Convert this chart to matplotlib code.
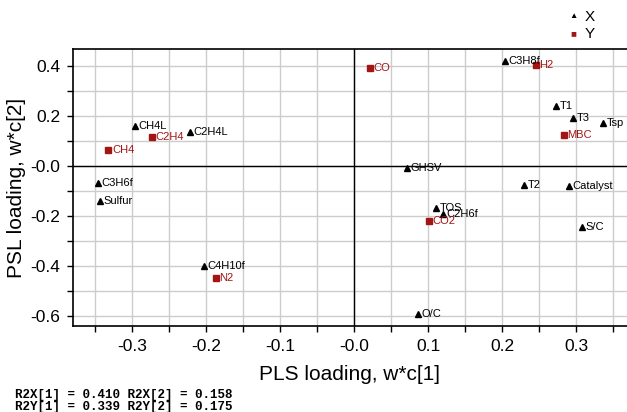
import matplotlib.pyplot as plt
from matplotlib.ticker import MultipleLocator, FuncFormatter

plt.rcParams['font.family'] = ['Liberation Sans', 'DejaVu Sans']

# X variables (triangles)
x_names = ['CH4L', 'C2H4L', 'C3H6f', 'Sulfur', 'C4H10f', 'C3H8f', 'T1', 'T3', 'Tsp',
           'GHSV', 'T2', 'Catalyst', 'TOS', 'C2H6f', 'S/C', 'O/C']
x_w1 = [-0.296, -0.222, -0.346, -0.343, -0.203, 0.204, 0.273, 0.296, 0.337,
        0.071, 0.230, 0.290, 0.111, 0.120, 0.308, 0.086]
x_w2 = [0.159, 0.135, -0.070, -0.140, -0.401, 0.419, 0.240, 0.190, 0.172,
        -0.008, -0.075, -0.080, -0.168, -0.193, -0.244, -0.593]

# Y variables (squares)
y_names = ['CH4', 'C2H4', 'N2', 'CO', 'H2', 'MBC', 'CO2']
y_w1 = [-0.332, -0.273, -0.187, 0.022, 0.246, 0.284, 0.101]
y_w2 = [0.063, 0.116, -0.447, 0.391, 0.403, 0.123, -0.221]

red = '#a31515'

fig = plt.figure(figsize=(6.27, 4.12), dpi=100)
ax = fig.add_axes([0.1164, 0.2087, 0.8836, 0.6723])

ax.plot(x_w1, x_w2, '^', color='black', ms=4, zorder=3)
ax.plot(y_w1, y_w2, 's', color=red, ms=4, zorder=3)
for n, a, b in zip(x_names, x_w1, x_w2):
    ax.annotate(n, (a, b), xytext=(2.5, 0), textcoords='offset points',
                va='center', ha='left', fontsize=8, color='black', zorder=4)
for n, a, b in zip(y_names, y_w1, y_w2):
    ax.annotate(n, (a, b), xytext=(2.5, 0), textcoords='offset points',
                va='center', ha='left', fontsize=8, color=red, zorder=4)

ax.axhline(0, color='black', lw=1, zorder=2)
ax.axvline(0, color='black', lw=1, zorder=2)

ax.set_xlim(-0.380, 0.369)
ax.set_ylim(-0.641, 0.467)
ax.xaxis.set_major_locator(MultipleLocator(0.1))
ax.xaxis.set_minor_locator(MultipleLocator(0.05))
ax.yaxis.set_major_locator(MultipleLocator(0.2))
ax.yaxis.set_minor_locator(MultipleLocator(0.1))

def fmt(v, pos):
    if abs(v) < 1e-9:
        return '-0.0'
    return '%.1f' % v

ax.xaxis.set_major_formatter(FuncFormatter(fmt))
ax.yaxis.set_major_formatter(FuncFormatter(fmt))
ax.tick_params(which='both', direction='out', length=4, width=1, labelsize=12.5, pad=5)
ax.grid(which='both', color='#cccccc', lw=1)
ax.set_axisbelow(True)
ax.spines['right'].set_visible(False)
for s in ['left', 'bottom', 'top']:
    ax.spines[s].set_linewidth(1.2)

ax.set_xlabel('PLS loading, w*c[1]', fontsize=15, labelpad=8)
ax.set_ylabel('PSL loading, w*c[2]', fontsize=15, labelpad=3)

# legend
fig.text(0.914, 0.961, '\u25b2', fontsize=6, ha='center', va='center', color='black')
fig.text(0.933, 0.958, 'X', fontsize=11, ha='left', va='center')
fig.text(0.914, 0.920, '\u25a0', fontsize=7, ha='center', va='center', color=red)
fig.text(0.933, 0.917, 'Y', fontsize=11, ha='left', va='center')

fig.text(0.024, 0.041, 'R2X[1] = 0.410 R2X[2] = 0.158', fontsize=9,
         family='Liberation Mono', weight='bold', va='center')
fig.text(0.024, 0.012, 'R2Y[1] = 0.339 R2Y[2] = 0.175', fontsize=9,
         family='Liberation Mono', weight='bold', va='center')

fig.savefig('out.png', dpi=100)
